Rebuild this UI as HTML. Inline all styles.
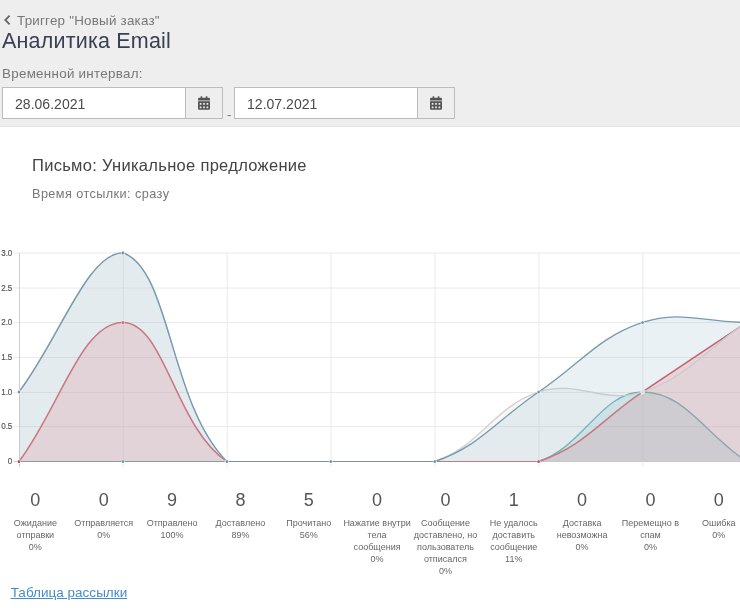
<!DOCTYPE html>
<html lang="ru">
<head>
<meta charset="utf-8">
<title>Аналитика Email</title>
<style>
html,body{margin:0;padding:0;}
body{width:740px;height:613px;overflow:hidden;background:#fff;position:relative;font-family:"Liberation Sans",sans-serif;color:#555;}
.hdr{position:absolute;left:0;top:0;width:740px;height:126px;background:#eeeeee;border-bottom:1px solid #e6e6e6;}
.back{position:absolute;left:17px;top:12.8px;font-size:13.4px;letter-spacing:0.22px;line-height:16px;color:#777;white-space:nowrap;}
.chev{position:absolute;left:4px;top:15px;}
h1{position:absolute;left:2px;top:27.6px;margin:0;font-weight:normal;font-size:21.5px;letter-spacing:0.19px;line-height:26px;color:#3a3f51;white-space:nowrap;}
.lbl{position:absolute;left:2px;top:65.8px;font-size:13.4px;letter-spacing:0.27px;line-height:16px;color:#777;white-space:nowrap;}
.inp{position:absolute;top:87px;height:30px;width:182px;border:1px solid #bcbcbc;background:#fff;box-sizing:content-box;}
.inp span{position:absolute;left:12px;top:8px;font-size:14px;letter-spacing:0.03px;line-height:17px;color:#4a4a4a;white-space:nowrap;}
.btn{position:absolute;top:87px;height:30px;width:36px;border:1px solid #bcbcbc;background:#eee;}
.cal{position:absolute;left:12.1px;top:8px;}
.dash{position:absolute;left:227px;top:107px;font-size:13px;line-height:16px;color:#777;}
.letter{position:absolute;left:32px;top:155.4px;font-size:16.5px;letter-spacing:0.3px;line-height:20px;color:#444;white-space:nowrap;}
.when{position:absolute;left:32px;top:185.8px;font-size:12.7px;letter-spacing:0.42px;line-height:16px;color:#777;white-space:nowrap;}
.chart{position:absolute;left:0;top:240px;}
.yl{font-family:"Liberation Sans",sans-serif;font-size:8px;fill:#555;stroke:#555;stroke-width:0.15px;}
.stats{position:absolute;left:1.2px;top:486px;width:760px;display:flex;}
.col{width:68.35px;flex:none;text-align:center;}
.num{font-size:18px;line-height:26px;color:#555;padding-top:0.5px;}
.lab{font-size:9px;line-height:12px;color:#666;margin:4.5px -10px 0 -10px;white-space:nowrap;}
.link{position:absolute;left:10.7px;top:585px;font-size:13.5px;letter-spacing:0.02px;line-height:16px;color:#448ccb;text-decoration:underline;white-space:nowrap;}
</style>
</head>
<body>
<div class="hdr">
  <svg class="chev" width="7" height="11" viewBox="0 0 7 11"><path d="M5.6 0.7 L1.3 5 L5.6 9.3" fill="none" stroke="#666" stroke-width="1.8"/></svg>
  <div class="back">Триггер "Новый заказ"</div>
  <h1>Аналитика Email</h1>
  <div class="lbl">Временной интервал:</div>
  <div class="inp" style="left:2px"><span>28.06.2021</span></div>
  <div class="btn" style="left:185px"><svg class="cal" width="12" height="14" viewBox="0 0 448 512"><path fill="#555" d="M0 464c0 26.500 21.500 48 48 48h352c26.500 0 48-21.500 48-48V192H0v272zm320-196c0-6.600 5.400-12 12-12h40c6.600 0 12 5.400 12 12v40c0 6.600-5.400 12-12 12h-40c-6.600 0-12-5.400-12-12v-40zm0 128c0-6.600 5.400-12 12-12h40c6.600 0 12 5.400 12 12v40c0 6.600-5.400 12-12 12h-40c-6.600 0-12-5.400-12-12v-40zM192 268c0-6.600 5.400-12 12-12h40c6.600 0 12 5.400 12 12v40c0 6.600-5.400 12-12 12h-40c-6.600 0-12-5.400-12-12v-40zm0 128c0-6.600 5.400-12 12-12h40c6.600 0 12 5.400 12 12v40c0 6.600-5.400 12-12 12h-40c-6.600 0-12-5.400-12-12v-40zM64 268c0-6.600 5.400-12 12-12h40c6.600 0 12 5.400 12 12v40c0 6.600-5.400 12-12 12H76c-6.600 0-12-5.400-12-12v-40zm0 128c0-6.600 5.400-12 12-12h40c6.600 0 12 5.400 12 12v40c0 6.600-5.400 12-12 12H76c-6.600 0-12-5.400-12-12v-40zM400 64h-48V16c0-8.800-7.200-16-16-16h-32c-8.800 0-16 7.200-16 16v48H160V16c0-8.800-7.200-16-16-16h-32c-8.800 0-16 7.200-16 16v48H48C21.500 64 0 85.500 0 112v48h448v-48c0-26.500-21.500-48-48-48z"/></svg></div>
  <div class="dash">-</div>
  <div class="inp" style="left:234px"><span>12.07.2021</span></div>
  <div class="btn" style="left:417px"><svg class="cal" width="12" height="14" viewBox="0 0 448 512"><path fill="#555" d="M0 464c0 26.500 21.500 48 48 48h352c26.500 0 48-21.500 48-48V192H0v272zm320-196c0-6.600 5.400-12 12-12h40c6.600 0 12 5.400 12 12v40c0 6.600-5.400 12-12 12h-40c-6.600 0-12-5.400-12-12v-40zm0 128c0-6.600 5.400-12 12-12h40c6.600 0 12 5.400 12 12v40c0 6.600-5.400 12-12 12h-40c-6.600 0-12-5.400-12-12v-40zM192 268c0-6.600 5.400-12 12-12h40c6.600 0 12 5.400 12 12v40c0 6.600-5.400 12-12 12h-40c-6.600 0-12-5.400-12-12v-40zm0 128c0-6.600 5.400-12 12-12h40c6.600 0 12 5.400 12 12v40c0 6.600-5.400 12-12 12h-40c-6.600 0-12-5.400-12-12v-40zM64 268c0-6.600 5.400-12 12-12h40c6.600 0 12 5.400 12 12v40c0 6.600-5.400 12-12 12H76c-6.600 0-12-5.400-12-12v-40zm0 128c0-6.600 5.400-12 12-12h40c6.600 0 12 5.400 12 12v40c0 6.600-5.400 12-12 12H76c-6.600 0-12-5.400-12-12v-40zM400 64h-48V16c0-8.800-7.200-16-16-16h-32c-8.800 0-16 7.200-16 16v48H160V16c0-8.800-7.200-16-16-16h-32c-8.800 0-16 7.200-16 16v48H48C21.500 64 0 85.500 0 112v48h448v-48c0-26.500-21.500-48-48-48z"/></svg></div>
</div>
<div class="letter">Письмо: Уникальное предложение</div>
<div class="when">Время отсылки: сразу</div>
<svg class="chart" width="751" height="240" viewBox="0 0 751 240">
<g><line x1="13.4" y1="221.50" x2="746.5" y2="221.50" stroke="#cfcfcf" stroke-width="1"/><line x1="13.4" y1="186.60" x2="746.5" y2="186.60" stroke="#eaeaea" stroke-width="1"/><line x1="13.4" y1="152.50" x2="746.5" y2="152.50" stroke="#eaeaea" stroke-width="1"/><line x1="13.4" y1="117.50" x2="746.5" y2="117.50" stroke="#eaeaea" stroke-width="1"/><line x1="13.4" y1="82.50" x2="746.5" y2="82.50" stroke="#eaeaea" stroke-width="1"/><line x1="13.4" y1="48.00" x2="746.5" y2="48.00" stroke="#eaeaea" stroke-width="1"/><line x1="13.4" y1="13.00" x2="746.5" y2="13.00" stroke="#eaeaea" stroke-width="1"/><line x1="19.50" y1="12.9" x2="19.50" y2="227.1" stroke="#cfcfcf" stroke-width="1"/><line x1="123.23" y1="12.9" x2="123.23" y2="227.1" stroke="#eaeaea" stroke-width="1"/><line x1="227.16" y1="12.9" x2="227.16" y2="227.1" stroke="#eaeaea" stroke-width="1"/><line x1="331.09" y1="12.9" x2="331.09" y2="227.1" stroke="#eaeaea" stroke-width="1"/><line x1="435.01" y1="12.9" x2="435.01" y2="227.1" stroke="#eaeaea" stroke-width="1"/><line x1="538.94" y1="12.9" x2="538.94" y2="227.1" stroke="#eaeaea" stroke-width="1"/><line x1="642.87" y1="12.9" x2="642.87" y2="227.1" stroke="#eaeaea" stroke-width="1"/><line x1="746.80" y1="12.9" x2="746.80" y2="227.1" stroke="#eaeaea" stroke-width="1"/></g>
<text transform="translate(12.3,224.1) scale(1.0,1.2)" text-anchor="end" class="yl">0</text>
<text transform="translate(12.3,189.2) scale(1.0,1.2)" text-anchor="end" class="yl">0.5</text>
<text transform="translate(12.3,155.1) scale(1.0,1.2)" text-anchor="end" class="yl">1.0</text>
<text transform="translate(12.3,120.1) scale(1.0,1.2)" text-anchor="end" class="yl">1.5</text>
<text transform="translate(12.3,85.1) scale(1.0,1.2)" text-anchor="end" class="yl">2.0</text>
<text transform="translate(12.3,50.6) scale(1.0,1.2)" text-anchor="end" class="yl">2.5</text>
<text transform="translate(12.3,15.6) scale(1.0,1.2)" text-anchor="end" class="yl">3.0</text>
<clipPath id="ca"><rect x="19.00" y="12.90" width="727.50" height="208.60"/></clipPath>
<path d="M19.00,221.50 C60.57,221.50 81.36,221.50 122.93,221.50 C164.50,221.50 185.29,221.50 226.86,221.50 C268.43,221.50 289.21,221.50 330.79,221.50 C372.36,221.50 393.14,221.50 434.71,221.50 C476.29,221.50 500.91,221.50 538.64,221.50 C584.05,206.31 601.00,151.97 642.57,151.97 C684.14,151.97 704.93,193.69 746.50,221.50 L746.50,221.50 L19.00,221.50 Z" fill="rgba(70,191,189,0.2)" stroke="none" clip-path="url(#ca)"/>
<rect x="19.00" y="221.00" width="103.93" height="1" fill="#7f9a9a"/>
<rect x="122.93" y="221.00" width="103.93" height="1" fill="#7f9a9a"/>
<rect x="226.86" y="221.00" width="103.93" height="1" fill="#7f9a9a"/>
<rect x="330.79" y="221.00" width="103.93" height="1" fill="#7f9a9a"/>
<rect x="434.71" y="221.00" width="103.93" height="1" fill="#7f9a9a"/>
<path d="M538.64,221.50 C584.05,206.31 601.00,151.97 642.57,151.97 C684.14,151.97 704.93,193.69 746.50,221.50" fill="none" stroke="#55aaaa" stroke-width="1.35" stroke-opacity="1" stroke-linejoin="round" stroke-linecap="butt"/>
<ellipse cx="19.00" cy="221.50" rx="2.00" ry="2.20" fill="#fff" fill-opacity="0.75"/>
<ellipse cx="19.00" cy="221.50" rx="1.35" ry="1.55" fill="#4fa9a6"/>
<ellipse cx="122.93" cy="221.50" rx="2.00" ry="2.20" fill="#fff" fill-opacity="0.75"/>
<ellipse cx="122.93" cy="221.50" rx="1.35" ry="1.55" fill="#4fa9a6"/>
<ellipse cx="226.86" cy="221.50" rx="2.00" ry="2.20" fill="#fff" fill-opacity="0.75"/>
<ellipse cx="226.86" cy="221.50" rx="1.35" ry="1.55" fill="#4fa9a6"/>
<ellipse cx="330.79" cy="221.50" rx="2.00" ry="2.20" fill="#fff" fill-opacity="0.75"/>
<ellipse cx="330.79" cy="221.50" rx="1.35" ry="1.55" fill="#4fa9a6"/>
<ellipse cx="434.71" cy="221.50" rx="2.00" ry="2.20" fill="#fff" fill-opacity="0.75"/>
<ellipse cx="434.71" cy="221.50" rx="1.35" ry="1.55" fill="#4fa9a6"/>
<ellipse cx="538.64" cy="221.50" rx="2.00" ry="2.20" fill="#fff" fill-opacity="0.75"/>
<ellipse cx="538.64" cy="221.50" rx="1.35" ry="1.55" fill="#4fa9a6"/>
<ellipse cx="642.57" cy="151.97" rx="2.00" ry="2.20" fill="#fff" fill-opacity="0.75"/>
<ellipse cx="642.57" cy="151.97" rx="1.35" ry="1.55" fill="#4fa9a6"/>
<ellipse cx="746.50" cy="221.50" rx="2.00" ry="2.20" fill="#fff" fill-opacity="0.75"/>
<ellipse cx="746.50" cy="221.50" rx="1.35" ry="1.55" fill="#4fa9a6"/>
<path d="M19.00,221.50 C60.57,165.87 81.36,82.43 122.93,82.43 C164.50,82.43 174.85,186.70 226.86,221.50 C257.99,221.50 289.21,221.50 330.79,221.50 C372.36,221.50 393.14,221.50 434.71,221.50 C476.29,221.50 500.91,221.50 538.64,221.50 C584.05,206.31 601.00,179.78 642.57,151.97 C684.14,124.15 704.93,110.25 746.50,82.43 L746.50,221.50 L19.00,221.50 Z" fill="rgba(247,70,74,0.2)" stroke="none" clip-path="url(#ca)"/>
<rect x="226.86" y="221.00" width="103.93" height="1" fill="#b9777c"/>
<rect x="330.79" y="221.00" width="103.93" height="1" fill="#b9777c"/>
<rect x="434.71" y="221.00" width="103.93" height="1" fill="#b9777c"/>
<path d="M19.00,221.50 C60.57,165.87 81.36,82.43 122.93,82.43 C164.50,82.43 174.85,186.70 226.86,221.50 M538.64,221.50 C584.05,206.31 601.00,179.78 642.57,151.97 C684.14,124.15 704.93,110.25 746.50,82.43" fill="none" stroke="#d24c57" stroke-width="1.5" stroke-opacity="1" stroke-linejoin="round" stroke-linecap="butt"/>
<ellipse cx="19.00" cy="221.50" rx="2.00" ry="2.20" fill="#fff" fill-opacity="0.75"/>
<ellipse cx="19.00" cy="221.50" rx="1.35" ry="1.55" fill="#d8414e"/>
<ellipse cx="122.93" cy="82.43" rx="2.00" ry="2.20" fill="#fff" fill-opacity="0.75"/>
<ellipse cx="122.93" cy="82.43" rx="1.35" ry="1.55" fill="#d8414e"/>
<ellipse cx="226.86" cy="221.50" rx="2.00" ry="2.20" fill="#fff" fill-opacity="0.75"/>
<ellipse cx="226.86" cy="221.50" rx="1.35" ry="1.55" fill="#d8414e"/>
<ellipse cx="330.79" cy="221.50" rx="2.00" ry="2.20" fill="#fff" fill-opacity="0.75"/>
<ellipse cx="330.79" cy="221.50" rx="1.35" ry="1.55" fill="#d8414e"/>
<ellipse cx="434.71" cy="221.50" rx="2.00" ry="2.20" fill="#fff" fill-opacity="0.75"/>
<ellipse cx="434.71" cy="221.50" rx="1.35" ry="1.55" fill="#d8414e"/>
<ellipse cx="538.64" cy="221.50" rx="2.00" ry="2.20" fill="#fff" fill-opacity="0.75"/>
<ellipse cx="538.64" cy="221.50" rx="1.35" ry="1.55" fill="#d8414e"/>
<ellipse cx="642.57" cy="151.97" rx="2.00" ry="2.20" fill="#fff" fill-opacity="0.75"/>
<ellipse cx="642.57" cy="151.97" rx="1.35" ry="1.55" fill="#d8414e"/>
<ellipse cx="746.50" cy="82.43" rx="2.00" ry="2.20" fill="#fff" fill-opacity="0.75"/>
<ellipse cx="746.50" cy="82.43" rx="1.35" ry="1.55" fill="#d8414e"/>
<path d="M19.00,151.97 C60.57,96.34 87.43,12.90 122.93,12.90 C170.58,28.84 169.36,163.79 226.86,221.50 C252.50,221.50 289.21,221.50 330.79,221.50 C372.36,221.50 396.98,221.50 434.71,221.50 C480.12,206.31 493.24,167.16 538.64,151.97 C576.38,139.34 604.83,164.59 642.57,151.97 C687.98,136.78 704.93,110.25 746.50,82.43 L746.50,221.50 L19.00,221.50 Z" fill="rgba(220,220,220,0.2)" stroke="none" clip-path="url(#ca)"/>
<rect x="226.86" y="221.00" width="103.93" height="1" fill="#bdbdbd"/>
<rect x="330.79" y="221.00" width="103.93" height="1" fill="#bdbdbd"/>
<path d="M19.00,151.97 C60.57,96.34 87.43,12.90 122.93,12.90 C170.58,28.84 169.36,163.79 226.86,221.50 M434.71,221.50 C480.12,206.31 493.24,167.16 538.64,151.97 C576.38,139.34 604.83,164.59 642.57,151.97 C687.98,136.78 704.93,110.25 746.50,82.43" fill="none" stroke="#d2d2d2" stroke-width="1.35" stroke-opacity="1" stroke-linejoin="round" stroke-linecap="butt"/>
<ellipse cx="19.00" cy="151.97" rx="2.25" ry="2.49" fill="#fff" fill-opacity="1"/>
<ellipse cx="19.00" cy="151.97" rx="1.60" ry="1.84" fill="#e6e6e6"/>
<ellipse cx="122.93" cy="12.90" rx="2.25" ry="2.49" fill="#fff" fill-opacity="1"/>
<ellipse cx="122.93" cy="12.90" rx="1.60" ry="1.84" fill="#e6e6e6"/>
<ellipse cx="226.86" cy="221.50" rx="2.25" ry="2.49" fill="#fff" fill-opacity="1"/>
<ellipse cx="226.86" cy="221.50" rx="1.60" ry="1.84" fill="#e6e6e6"/>
<ellipse cx="330.79" cy="221.50" rx="2.25" ry="2.49" fill="#fff" fill-opacity="1"/>
<ellipse cx="330.79" cy="221.50" rx="1.60" ry="1.84" fill="#e6e6e6"/>
<ellipse cx="434.71" cy="221.50" rx="2.25" ry="2.49" fill="#fff" fill-opacity="1"/>
<ellipse cx="434.71" cy="221.50" rx="1.60" ry="1.84" fill="#e6e6e6"/>
<ellipse cx="538.64" cy="151.97" rx="2.25" ry="2.49" fill="#fff" fill-opacity="1"/>
<ellipse cx="538.64" cy="151.97" rx="1.60" ry="1.84" fill="#e6e6e6"/>
<ellipse cx="642.57" cy="151.97" rx="2.25" ry="2.49" fill="#fff" fill-opacity="1"/>
<ellipse cx="642.57" cy="151.97" rx="1.60" ry="1.84" fill="#e6e6e6"/>
<ellipse cx="746.50" cy="82.43" rx="2.25" ry="2.49" fill="#fff" fill-opacity="1"/>
<ellipse cx="746.50" cy="82.43" rx="1.60" ry="1.84" fill="#e6e6e6"/>
<path d="M19.00,151.97 C60.57,96.34 87.43,12.90 122.93,12.90 C170.58,28.84 169.36,163.79 226.86,221.50 C252.50,221.50 289.21,221.50 330.79,221.50 C372.36,221.50 396.98,221.50 434.71,221.50 C480.12,206.31 497.07,179.78 538.64,151.97 C580.21,124.15 597.17,97.62 642.57,82.43 C680.31,69.81 704.93,82.43 746.50,82.43 L746.50,221.50 L19.00,221.50 Z" fill="rgba(151,187,205,0.2)" stroke="none" clip-path="url(#ca)"/>
<rect x="226.86" y="221.00" width="103.93" height="1" fill="#82929c"/>
<rect x="330.79" y="221.00" width="103.93" height="1" fill="#82929c"/>
<path d="M19.00,151.97 C60.57,96.34 87.43,12.90 122.93,12.90 C170.58,28.84 169.36,163.79 226.86,221.50 M434.71,221.50 C480.12,206.31 497.07,179.78 538.64,151.97 C580.21,124.15 597.17,97.62 642.57,82.43 C680.31,69.81 704.93,82.43 746.50,82.43" fill="none" stroke="#759bb0" stroke-width="1.35" stroke-opacity="1" stroke-linejoin="round" stroke-linecap="butt"/>
<ellipse cx="19.00" cy="151.97" rx="2.00" ry="2.20" fill="#fff" fill-opacity="0.75"/>
<ellipse cx="19.00" cy="151.97" rx="1.35" ry="1.55" fill="#7796ad"/>
<ellipse cx="122.93" cy="12.90" rx="2.00" ry="2.20" fill="#fff" fill-opacity="0.75"/>
<ellipse cx="122.93" cy="12.90" rx="1.35" ry="1.55" fill="#7796ad"/>
<ellipse cx="226.86" cy="221.50" rx="2.00" ry="2.20" fill="#fff" fill-opacity="0.75"/>
<ellipse cx="226.86" cy="221.50" rx="1.35" ry="1.55" fill="#7796ad"/>
<ellipse cx="330.79" cy="221.50" rx="2.00" ry="2.20" fill="#fff" fill-opacity="0.75"/>
<ellipse cx="330.79" cy="221.50" rx="1.35" ry="1.55" fill="#7796ad"/>
<ellipse cx="434.71" cy="221.50" rx="2.00" ry="2.20" fill="#fff" fill-opacity="0.75"/>
<ellipse cx="434.71" cy="221.50" rx="1.35" ry="1.55" fill="#7796ad"/>
<ellipse cx="538.64" cy="151.97" rx="2.00" ry="2.20" fill="#fff" fill-opacity="0.75"/>
<ellipse cx="538.64" cy="151.97" rx="1.35" ry="1.55" fill="#7796ad"/>
<ellipse cx="642.57" cy="82.43" rx="2.00" ry="2.20" fill="#fff" fill-opacity="0.75"/>
<ellipse cx="642.57" cy="82.43" rx="1.35" ry="1.55" fill="#7796ad"/>
<ellipse cx="746.50" cy="82.43" rx="2.00" ry="2.20" fill="#fff" fill-opacity="0.75"/>
<ellipse cx="746.50" cy="82.43" rx="1.35" ry="1.55" fill="#7796ad"/>
</svg>
<div class="stats">
<div class="col"><div class="num">0</div><div class="lab">Ожидание<br>отправки<br>0%</div></div>
<div class="col"><div class="num">0</div><div class="lab">Отправляется<br>0%</div></div>
<div class="col"><div class="num">9</div><div class="lab">Отправлено<br>100%</div></div>
<div class="col"><div class="num">8</div><div class="lab">Доставлено<br>89%</div></div>
<div class="col"><div class="num">5</div><div class="lab">Прочитано<br>56%</div></div>
<div class="col"><div class="num">0</div><div class="lab">Нажатие внутри<br>тела<br>сообщения<br>0%</div></div>
<div class="col"><div class="num">0</div><div class="lab">Сообщение<br>доставлено, но<br>пользователь<br>отписался<br>0%</div></div>
<div class="col"><div class="num">1</div><div class="lab">Не удалось<br>доставить<br>сообщение<br>11%</div></div>
<div class="col"><div class="num">0</div><div class="lab">Доставка<br>невозможна<br>0%</div></div>
<div class="col"><div class="num">0</div><div class="lab">Перемещно в<br>спам<br>0%</div></div>
<div class="col"><div class="num">0</div><div class="lab">Ошибка<br>0%</div></div>
</div>
<a class="link">Таблица рассылки</a>
</body>
</html>
